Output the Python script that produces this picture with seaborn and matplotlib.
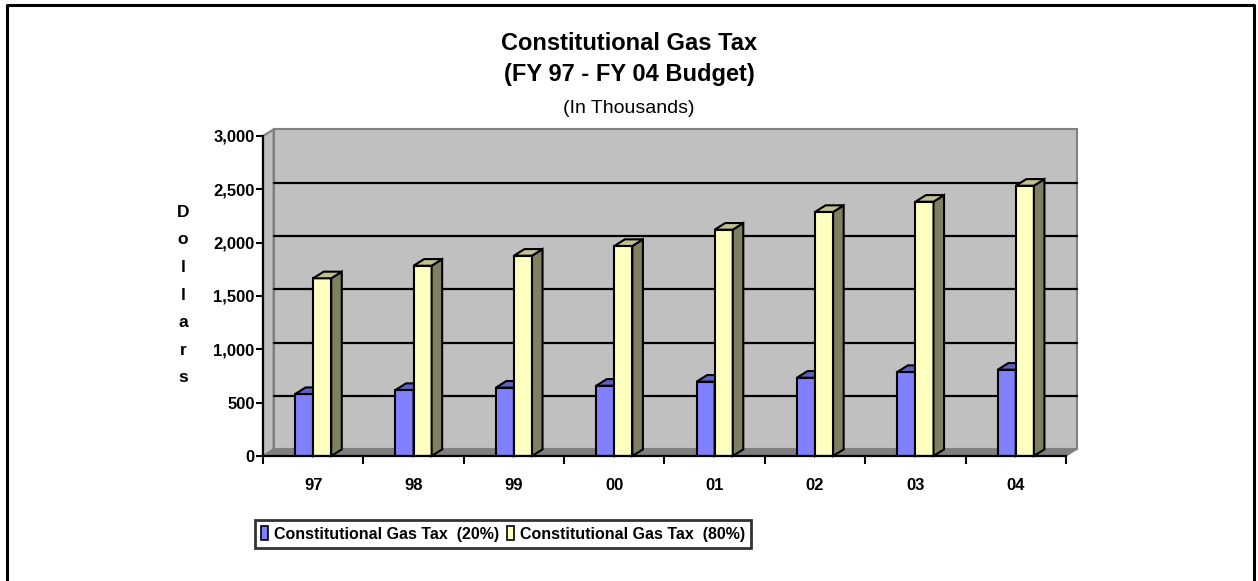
import numpy as np
import pandas as pd
import matplotlib
matplotlib.use("Agg")
import matplotlib.pyplot as plt
from matplotlib.patches import Polygon, Rectangle
from matplotlib.lines import Line2D
import seaborn as sns

# ---- data ----
years = ["97", "98", "99", "00", "01", "02", "03", "04"]
tax_20 = [581, 619, 641, 659, 697, 734, 788, 809]
tax_80 = [1666, 1784, 1878, 1969, 2122, 2288, 2384, 2534]
series_names = ["Constitutional Gas Tax  (20%)", "Constitutional Gas Tax  (80%)"]
yticks = [0, 500, 1000, 1500, 2000, 2500, 3000]

df = pd.DataFrame({
    "year": years * 2,
    "value": tax_20 + tax_80,
    "series": [series_names[0]] * len(years) + [series_names[1]] * len(years),
})

sns.set_theme(style="white")
plt.rcParams["font.family"] = ["Liberation Sans", "DejaVu Sans"]
plt.rcParams.update({"text.color": "black", "axes.labelcolor": "black",
                     "xtick.color": "black", "ytick.color": "black"})

front_cols = ["#8080FF", "#FFFFC0"]
top_cols = ["#6060C0", "#C0C090"]
side_cols = ["#5050A0", "#808060"]

fig = plt.figure(figsize=(12.58, 5.81), dpi=100)
W, H = 1258, 581
ax = fig.add_axes([263 / W, 1 - 456 / H, (1066 - 263) / W, (456 - 136) / H])
ax.set_facecolor("none")

sns.barplot(data=df, x="year", y="value", hue="series", palette=front_cols,
            width=0.36, edgecolor="black", linewidth=1.5, ax=ax, legend=False,
            saturation=1)

ax.set_xlim(-0.5, len(years) - 0.5)
ax.set_ylim(0, 3000)

dx, dy = 0.105, 62
x0, x1 = -0.5, len(years) - 0.5
ymax = 3000

# walls / floor
ax.add_patch(Polygon([(x0 + dx, dy), (x1 + dx, dy), (x1 + dx, ymax + dy), (x0 + dx, ymax + dy)],
                     closed=True, facecolor="#C0C0C0", edgecolor="#808080", lw=1.5,
                     zorder=0.5, clip_on=False))
ax.add_patch(Polygon([(x0, 0), (x0 + dx, dy), (x0 + dx, ymax + dy), (x0, ymax)],
                     closed=True, facecolor="#C0C0C0", edgecolor="#808080", lw=1.5,
                     zorder=0.6, clip_on=False))
ax.add_patch(Polygon([(x0, 0), (x1, 0), (x1 + dx, dy), (x0 + dx, dy)],
                     closed=True, facecolor="#808080", edgecolor="#808080", lw=1,
                     zorder=0.7, clip_on=False))
for v in yticks[1:-1]:
    ax.plot([x0 + dx, x1 + dx], [v + dy, v + dy], color="black", lw=1.6, zorder=0.8,
            clip_on=False)

# 3D faces for bars
bars = [p for p in ax.patches if isinstance(p, Rectangle) and p.get_height() > 0 and p.get_width() < 1]
n = len(years)
for i, p in enumerate(bars):
    s = 0 if i < n else 1
    z = 3 + s
    p.set_zorder(z)
    bx, bw, bh = p.get_x(), p.get_width(), p.get_height()
    side = Polygon([(bx + bw, 0), (bx + bw + dx, dy), (bx + bw + dx, bh + dy), (bx + bw, bh)],
                   closed=True, facecolor=side_cols[s], edgecolor="black", lw=1.5, zorder=z,
                   clip_on=False)
    top = Polygon([(bx, bh), (bx + dx, bh + dy), (bx + bw + dx, bh + dy), (bx + bw, bh)],
                  closed=True, facecolor=top_cols[s], edgecolor="black", lw=1.5, zorder=z,
                  clip_on=False)
    ax.add_patch(side)
    ax.add_patch(top)

# axes styling
for sp in ["top", "right"]:
    ax.spines[sp].set_visible(False)
for sp in ["left", "bottom"]:
    ax.spines[sp].set_color("black")
    ax.spines[sp].set_linewidth(1.6)
    ax.spines[sp].set_zorder(6)

ax.set_yticks(yticks)
ax.set_yticklabels([f"{v:,}" for v in yticks], fontsize=12, fontweight="bold")
ax.tick_params(axis="y", direction="out", length=5, width=1.5, color="black", pad=1, left=True)
ax.set_xticks(range(n))
ax.set_xticklabels(years, fontsize=12, fontweight="bold")
ax.tick_params(axis="x", which="major", length=0, pad=16)
ax.set_xticks(np.arange(-0.5, n, 1.0), minor=True)
ax.tick_params(axis="x", which="minor", direction="out", length=6, width=1.5, color="black", bottom=True)
ax.set_xlabel("")
ax.set_ylabel("")

# vertical stacked axis label
fig.text(183 / W, 1 - 295 / H, "D\no\nl\nl\na\nr\ns", ha="center", va="center",
         fontsize=12.5, fontweight="bold", linespacing=2.05)

# titles
fig.text(0.5, 1 - 43 / H, "Constitutional Gas Tax", ha="center", va="center",
         fontsize=17, fontweight="bold")
fig.text(0.5, 1 - 75 / H, "(FY 97 - FY 04 Budget)", ha="center", va="center",
         fontsize=17, fontweight="bold")
fig.text(0.5, 1 - 108 / H, "(In Thousands)", ha="center", va="center",
         fontsize=14)

# legend
handles = [Rectangle((0, 0), 1, 1, facecolor=c, edgecolor="black", lw=1.2) for c in front_cols]
leg = fig.legend(handles, series_names, loc="center", bbox_to_anchor=(503 / W, 1 - 534 / H),
                 ncol=2, frameon=True, fancybox=False, edgecolor="black",
                 prop={"size": 11.5, "weight": "bold"}, handlelength=0.45, handleheight=1.0,
                 handletextpad=0.35, columnspacing=0.5, borderpad=0.4, borderaxespad=0)
leg.get_frame().set_linewidth(2)

# outer border (left, top, right)
fig.add_artist(Line2D([7 / W, 7 / W, 1254 / W, 1254 / W], [0, 1 - 5 / H, 1 - 5 / H, 0],
                      color="black", lw=2.2, transform=fig.transFigure))

fig.savefig("out.png", dpi=100, facecolor="white")
